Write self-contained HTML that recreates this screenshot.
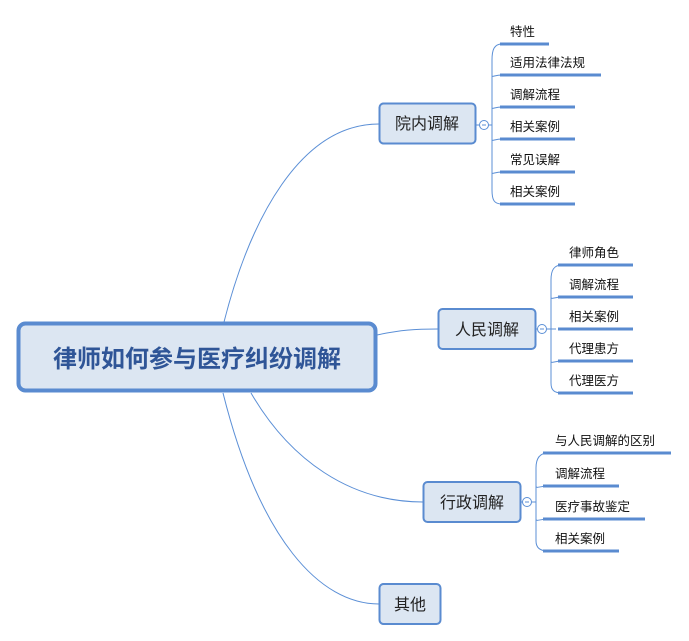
<!DOCTYPE html>
<html><head><meta charset="utf-8"><style>
html,body{margin:0;padding:0;background:#fff;}
svg{display:block;}
text{font-family:"Liberation Sans","Noto Sans CJK SC",sans-serif;}
</style></head><body>
<svg width="689" height="641" viewBox="0 0 689 641" xmlns="http://www.w3.org/2000/svg">
<g fill="none" stroke="#5b8fd6" stroke-width="1">
<path d="M224,322 C250,220 300,124 379,124"/>
<path d="M377,335 C400,330 415,329 438,329"/>
<path d="M251,393 C290,460 350,502 423,502"/>
<path d="M223,393 C260,540 320,604 379,604"/>
</g>
<rect x="18.5" y="323.5" width="357" height="67" rx="7" fill="#dce6f2" stroke="#5a8bd0" stroke-width="4"/>
<text x="197" y="367" text-anchor="middle" font-size="24" font-weight="bold" fill="#2f5597">律师如何参与医疗纠纷调解</text>
<g fill="#dce6f2" stroke="#5a8bd0" stroke-width="2">
<rect x="379.5" y="103.5" width="96" height="40" rx="4"/>
<rect x="438.5" y="309" width="97" height="40" rx="4"/>
<rect x="423.5" y="482" width="97" height="40" rx="4"/>
<rect x="379.5" y="584" width="61" height="40" rx="4"/>
</g>
<g font-size="16" fill="#222" text-anchor="middle">
<text x="427" y="129">院内调解</text>
<text x="487" y="335">人民调解</text>
<text x="472" y="508">行政调解</text>
<text x="410" y="610">其他</text>
</g>
<g fill="#fff" stroke="#5b8fd6" stroke-width="1">
<line x1="476" y1="125" x2="479" y2="125"/>
<circle cx="484" cy="125" r="4.5"/>
<line x1="536" y1="329" x2="538" y2="329"/>
<circle cx="542" cy="329" r="4.5"/>
<line x1="521" y1="502" x2="523" y2="502"/>
<circle cx="527" cy="502" r="4.5"/>
</g>
<g stroke="#5b8fd6" stroke-width="1">
<line x1="482" y1="125" x2="486" y2="125"/>
<line x1="540" y1="329" x2="544" y2="329"/>
<line x1="525" y1="502" x2="529" y2="502"/>
</g>
<g fill="none" stroke="#5b8fd6" stroke-width="1">
<line x1="488" y1="125" x2="492" y2="125"/>
<path d="M502,44 C494,44 492,50 492,60 L492,190 C492,200 494,204 502,204"/>
<path d="M492,75 C492,78 494,75 502,75 M492,107 C492,110 494,107 502,107 M492,139 C492,142 494,139 502,139 M492,172 C492,175 494,172 502,172"/>
<line x1="546" y1="329" x2="556" y2="329"/>
<path d="M562,265 C554,265 551,270 551,280 L551,383 C551,390 554,393 562,393"/>
<path d="M551,297 C551,300 554,297 562,297 M551,361 C551,364 554,361 562,361"/>
<line x1="531" y1="502" x2="536" y2="502"/>
<path d="M548,453 C540,453 536,458 536,468 L536,541 C536,548 540,551 548,551"/>
<path d="M536,486 C536,489 540,486 548,486 M536,519 C536,522 540,519 548,519"/>
</g>
<g stroke="#5a8bd0" stroke-width="3">
<line x1="500" y1="44" x2="549" y2="44"/>
<line x1="500" y1="75" x2="601" y2="75"/>
<line x1="500" y1="107" x2="575" y2="107"/>
<line x1="500" y1="139" x2="575" y2="139"/>
<line x1="500" y1="172" x2="575" y2="172"/>
<line x1="500" y1="204" x2="575" y2="204"/>
<line x1="558" y1="265" x2="633" y2="265"/>
<line x1="558" y1="297" x2="633" y2="297"/>
<line x1="558" y1="329" x2="633" y2="329"/>
<line x1="558" y1="361" x2="633" y2="361"/>
<line x1="558" y1="393" x2="633" y2="393"/>
<line x1="543" y1="453" x2="671" y2="453"/>
<line x1="543" y1="486" x2="619" y2="486"/>
<line x1="543" y1="519" x2="645" y2="519"/>
<line x1="543" y1="551" x2="619" y2="551"/>
</g>
<g font-size="12.5" fill="#111">
<text x="510" y="36">特性</text>
<text x="510" y="67">适用法律法规</text>
<text x="510" y="99">调解流程</text>
<text x="510" y="131">相关案例</text>
<text x="510" y="164">常见误解</text>
<text x="510" y="196">相关案例</text>
<text x="569" y="257">律师角色</text>
<text x="569" y="289">调解流程</text>
<text x="569" y="321">相关案例</text>
<text x="569" y="353">代理患方</text>
<text x="569" y="385">代理医方</text>
<text x="555" y="445">与人民调解的区别</text>
<text x="555" y="478">调解流程</text>
<text x="555" y="511">医疗事故鉴定</text>
<text x="555" y="543">相关案例</text>
</g>
</svg>
</body></html>
